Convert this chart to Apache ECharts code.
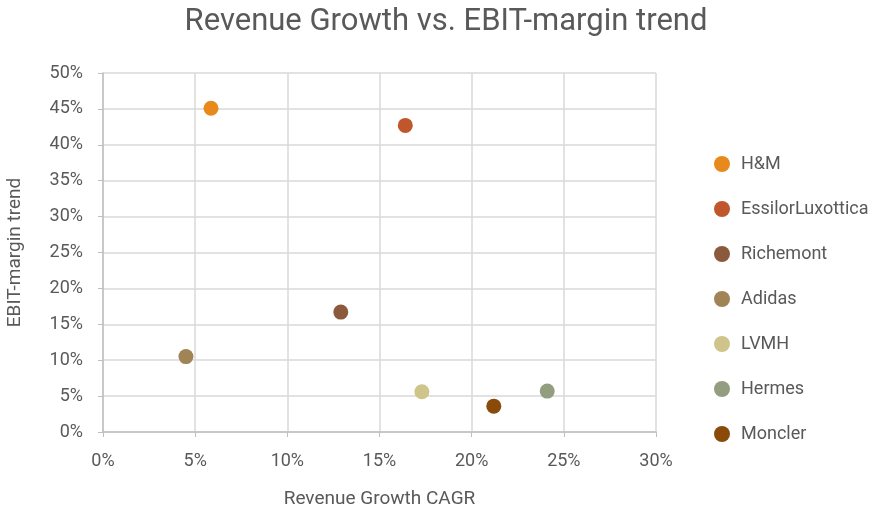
<!DOCTYPE html>
<html><head><meta charset="utf-8">
<script src="https://cdn.jsdelivr.net/npm/echarts@6/dist/echarts.min.js"></script>
<style>html,body{margin:0;padding:0;background:#fff}#c{width:892px;height:510px}</style>
</head><body><div id="c"></div>
<script>
const companies = ['H&M','EssilorLuxottica','Richemont','Adidas','LVMH','Hermes','Moncler'];
const revenueGrowth = [0.0586,0.164,0.129,0.045,0.173,0.241,0.212];
const ebitMargin = [0.451,0.427,0.167,0.105,0.056,0.057,0.036];
const colors = ['#E8891C','#C0562C','#8B5A3C','#A08456','#CFC58A','#939E80','#8A4A0A'];
const xTicks = [0,0.3,0.05];
const yTicks = [0,0.5,0.05];

const pct = v => Math.round(v*100)+'%';
const chart = echarts.init(document.getElementById('c'));
const txt = '#595959';
chart.setOption({
  animation:false,
  title:{text:'Revenue Growth vs. EBIT-margin trend',left:'center',top:2,
    textStyle:{fontFamily:'Liberation Sans Narrow, Roboto, sans-serif',fontSize:31,fontWeight:'normal',color:txt}},
  legend:{orient:'vertical',left:709,top:150,itemGap:27,itemWidth:16,itemHeight:18,icon:'circle',
    textStyle:{fontFamily:'Roboto, sans-serif',fontSize:18,color:txt,padding:[0,0,0,6]},data:companies},
  grid:{left:103,right:236,top:73,bottom:78,containLabel:false,outerBoundsMode:'none'},
  xAxis:{type:'value',min:xTicks[0],max:xTicks[1],interval:xTicks[2],
    name:'Revenue Growth CAGR',nameLocation:'middle',nameGap:58,
    nameTextStyle:{fontFamily:'Roboto, sans-serif',fontSize:19,color:txt},
    axisLine:{show:true,lineStyle:{color:'#bfbfbf',width:1.5}},
    axisTick:{show:true,length:5,lineStyle:{color:'#bfbfbf'}},
    axisLabel:{formatter:pct,fontFamily:'Roboto, sans-serif',fontSize:18,color:txt,margin:20},
    splitLine:{show:true,lineStyle:{color:'#d9d9d9',width:1.5}}},
  yAxis:{type:'value',min:yTicks[0],max:yTicks[1],interval:yTicks[2],
    name:'EBIT-margin trend',nameLocation:'middle',nameGap:78,nameRotate:90,
    nameTextStyle:{fontFamily:'Roboto, sans-serif',fontSize:19,color:txt},
    axisLine:{show:true,lineStyle:{color:'#bfbfbf',width:1.5}},
    axisTick:{show:true,length:5,lineStyle:{color:'#bfbfbf'}},
    axisLabel:{formatter:pct,fontFamily:'Roboto, sans-serif',fontSize:18,color:txt,margin:20},
    splitLine:{show:true,lineStyle:{color:'#d9d9d9',width:1.5}}},
  series: companies.map((n,i)=>({
    name:n,type:'scatter',symbol:'circle',symbolSize:15,
    itemStyle:{color:colors[i],opacity:1},
    data:[[revenueGrowth[i],ebitMargin[i]]]
  }))
});
</script></body></html>
